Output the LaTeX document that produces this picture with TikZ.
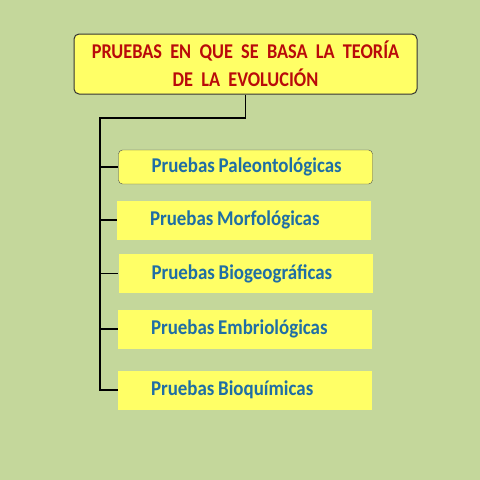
\documentclass[tikz,border=0pt]{standalone}
\usepackage{fontspec}
\setmainfont{Carlito}
\newfontfamily\fuentetitulo[FakeStretch=0.87]{Carlito}
\newfontfamily\fuenteprueba[FakeStretch=0.9]{Carlito}
\definecolor{fondo}{RGB}{196,215,155}
\definecolor{amarillo}{RGB}{255,255,102}
\definecolor{rojo}{RGB}{185,10,10}
\definecolor{azul}{RGB}{31,110,165}
\tikzset{
  titulo/.style={draw=black!80, line width=1pt, fill=amarillo, rounded corners=5pt,
    minimum width=343pt, minimum height=60pt, align=center, text=rojo,
    font=\fontsize{21}{28}\fuentetitulo\bfseries},
  prueba/.style={fill=amarillo, minimum width=254pt, minimum height=39pt,
    text=azul, font=\fontsize{21}{24}\fuenteprueba\bfseries, text width=220pt, align=left,
    inner xsep=17pt, execute at begin node={\spaceskip=0.18em\hspace*{16pt}}},
  rama/.style={line width=1.3pt, black}
}
\begin{document}
\begin{tikzpicture}[x=1pt,y=-1pt]
  \fill[fondo] (0,0) rectangle (480,480);
  \useasboundingbox (0,0) rectangle (480,480);
  \node[titulo] (tit) at (245.5,64) {PRUEBAS~~EN~~QUE~~SE~~BASA~~LA~~TEORÍA\\DE~~LA~~EVOLUCIÓN};
  \node[prueba, draw=black!70, rounded corners=4pt, minimum height=34pt] (p1) at (245.5,167) {Pruebas Paleontológicas};
  \node[prueba] (p2) at (244,220) {Pruebas Morfológicas};
  \node[prueba] (p3) at (245.5,273.5) {Pruebas Biogeográficas};
  \node[prueba] (p4) at (245,329) {Pruebas Embriológicas};
  \node[prueba] (p5) at (245,390) {Pruebas Bioquímicas};
  \coordinate (codo) at (100,118);
  % conectores
  \draw[rama] (tit.south) |- (codo) |- (p5.west);
  \foreach \n in {p1,p2,p3,p4} {
    \draw[rama] (codo) |- (\n.west);
  }
\end{tikzpicture}
\end{document}
